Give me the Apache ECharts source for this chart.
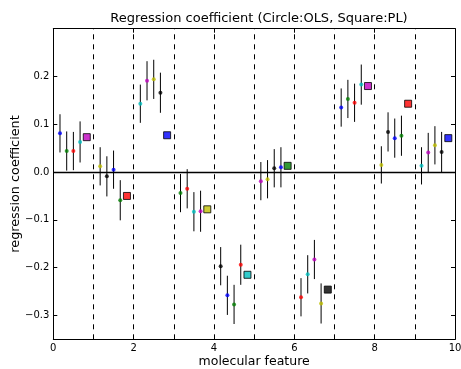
<!DOCTYPE html>
<html>
<head>
<meta charset="utf-8">
<script src="https://cdn.jsdelivr.net/npm/echarts@6/dist/echarts.min.js"></script>
<style>
  html, body { margin: 0; padding: 0; background: #fff; }
  #chart { width: 461px; height: 369px; }
</style>
</head>
<body>
<div id="chart"></div>
<script>
// Molecular features (0..9); each has four OLS estimates and one PL estimate.
const features = [0, 1, 2, 3, 4, 5, 6, 7, 8, 9];

// OLS coefficients (circles), four per feature
const olsValues = [
  [0.081, 0.044, 0.044, 0.063],
  [0.012, -0.009, 0.005, -0.059],
  [0.143, 0.191, 0.194, 0.166],
  [-0.044, -0.035, -0.083, -0.082],
  [-0.197, -0.258, -0.277, -0.194],
  [-0.019, -0.015, 0.008, 0.010],
  [-0.262, -0.214, -0.183, -0.275],
  [0.135, 0.153, 0.145, 0.183],
  [0.015, 0.084, 0.071, 0.076],
  [0.013, 0.041, 0.056, 0.042]
];

// Half-length of each OLS error bar
const olsErrors = [
  [0.040, 0.041, 0.040, 0.043],
  [0.040, 0.042, 0.040, 0.042],
  [0.040, 0.041, 0.041, 0.042],
  [0.040, 0.041, 0.041, 0.043],
  [0.040, 0.041, 0.041, 0.042],
  [0.040, 0.040, 0.040, 0.042],
  [0.040, 0.040, 0.041, 0.042],
  [0.040, 0.040, 0.040, 0.042],
  [0.039, 0.041, 0.041, 0.042],
  [0.039, 0.041, 0.040, 0.042]
];

// PL coefficients (squares), one per feature
const plValues = [0.073, -0.050, 0.077, -0.078, -0.215, 0.013, -0.246, 0.180, 0.143, 0.071];

// Colour cycle used for successive markers
const colorCycle = ['#0000ff', '#008000', '#ff0000', '#00bfbf', '#bf00bf', '#bfbf00', '#000000'];

// Tick positions / labels
const xTicks = [0, 2, 4, 6, 8, 10];
const yTicks = [-0.3, -0.2, -0.1, 0.0, 0.1, 0.2];

// Build marker data
const circleData = [];
const errorData = [];
const squareData = [];
features.forEach((f, i) => {
  olsValues[i].forEach((v, j) => {
    const x = f + (j + 1) / 6;
    const color = colorCycle[(i * 5 + j) % 7];
    circleData.push({ value: [x, v], itemStyle: { color: color } });
    errorData.push([x, v - olsErrors[i][j], v + olsErrors[i][j]]);
  });
  squareData.push({
    value: [f + 5 / 6, plValues[i]],
    itemStyle: { color: colorCycle[(i * 5 + 4) % 7] }
  });
});

const dividers = features.slice(1).map(f => ({ xAxis: f }));

const fmtNum = v => {
  const s = (Math.abs(v) < 1e-9 ? 0 : v).toFixed(1);
  return s.replace('-', '\u2212');
};

const font = 'DejaVu Sans';
const chart = echarts.init(document.getElementById('chart'), null, { renderer: 'canvas' });

const tickStyle = { show: true, inside: true, length: 4, lineStyle: { color: '#000', width: 1 } };
const lineStyle = { show: true, onZero: false, lineStyle: { color: '#000', width: 1 } };

chart.setOption({
  animation: false,
  backgroundColor: '#fff',
  title: {
    text: 'Regression coefficient (Circle:OLS, Square:PL)',
    left: 254, top: 7, textAlign: 'center',
    textStyle: { fontFamily: font, fontSize: 13, fontWeight: 'normal', color: '#000' }
  },
  grid: {
    left: 53.3, right: 6, top: 28.7, bottom: 29.7,
    containLabel: false, outerBoundsMode: 'none'
  },
  xAxis: [
    {
      type: 'value', min: 0, max: 10, position: 'bottom',
      name: 'molecular feature', nameLocation: 'middle', nameGap: 16, nameMoveOverlap: false,
      nameTextStyle: { fontFamily: font, fontSize: 12.5, color: '#000', verticalAlign: 'top' },
      axisLine: lineStyle,
      axisTick: Object.assign({ customValues: xTicks }, tickStyle),
      axisLabel: {
        fontFamily: font, fontSize: 10, color: '#000', margin: 4,
        customValues: xTicks, formatter: v => String(v)
      },
      splitLine: { show: false }
    },
    {
      type: 'value', min: 0, max: 10, position: 'top',
      axisLine: lineStyle,
      axisTick: Object.assign({ customValues: xTicks }, tickStyle),
      axisLabel: { show: false },
      splitLine: { show: false }
    }
  ],
  yAxis: [
    {
      type: 'value', min: -0.35, max: 0.3, position: 'left',
      name: 'regression coefficient', nameLocation: 'middle', nameGap: 31, nameMoveOverlap: false,
      nameTextStyle: { fontFamily: font, fontSize: 12.8, color: '#000' },
      axisLine: lineStyle,
      axisTick: Object.assign({ customValues: yTicks }, tickStyle),
      axisLabel: {
        fontFamily: font, fontSize: 10, color: '#000', margin: 4,
        customValues: yTicks, formatter: v => fmtNum(v)
      },
      splitLine: { show: false }
    },
    {
      type: 'value', min: -0.35, max: 0.3, position: 'right',
      axisLine: lineStyle,
      axisTick: Object.assign({ customValues: yTicks }, tickStyle),
      axisLabel: { show: false },
      splitLine: { show: false }
    }
  ],
  series: [
    {
      // feature dividers and zero reference line
      type: 'line', data: [], silent: true,
      markLine: {
        silent: true, symbol: 'none', animation: false,
        label: { show: false },
        lineStyle: { color: '#000', width: 1, type: [5, 5] },
        data: dividers.concat([{ yAxis: 0, lineStyle: { type: 'solid', width: 1.4, color: '#000' } }])
      }
    },
    {
      // OLS error bars
      type: 'custom', data: errorData, silent: true,
      renderItem: (params, api) => {
        const x = api.value(0);
        const p1 = api.coord([x, api.value(1)]);
        const p2 = api.coord([x, api.value(2)]);
        return {
          type: 'line',
          shape: { x1: p1[0], y1: p1[1], x2: p2[0], y2: p2[1] },
          style: { stroke: '#000', lineWidth: 1 }
        };
      },
      z: 3
    },
    {
      // OLS estimates
      type: 'scatter', data: circleData, symbol: 'circle', symbolSize: 4, z: 4
    },
    {
      // PL estimates
      type: 'scatter', data: squareData, symbol: 'rect', symbolSize: 7,
      itemStyle: { borderColor: '#000', borderWidth: 1 }, z: 4
    }
  ]
});
</script>
</body>
</html>
